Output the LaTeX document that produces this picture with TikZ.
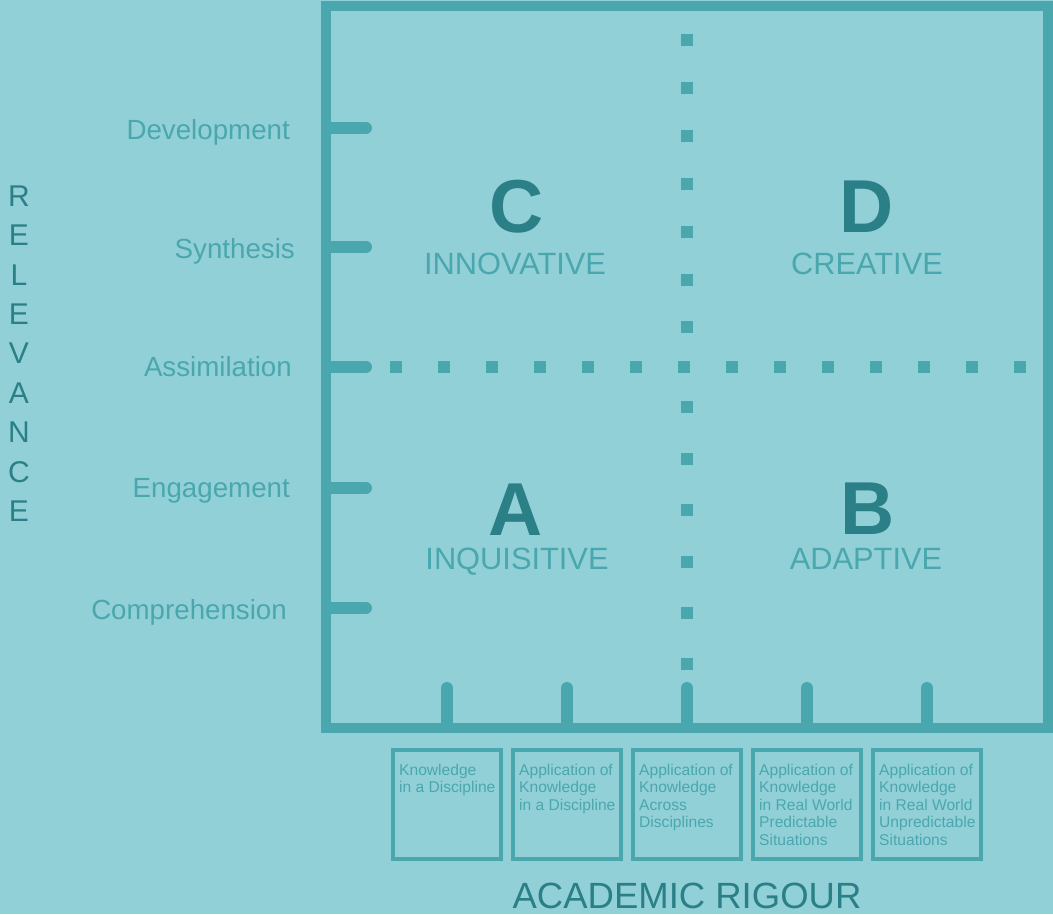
\documentclass[tikz,border=0pt]{standalone}
\usepackage{fontspec}
\setmainfont{Liberation Sans}
\definecolor{bg}{RGB}{146,208,216}
\definecolor{ln}{RGB}{74,167,174}
\definecolor{dk}{RGB}{43,127,135}
\begin{document}
\begin{tikzpicture}[x=1pt,y=-1pt,
  frame/.style={draw=ln, line width=10pt},
  tick/.style={draw=ln, line width=12pt, line cap=round},
  dot/.style={fill=ln},
  lbl/.style={text=ln, inner sep=0pt, font=\fontsize{27.7}{32}\selectfont},
  big/.style={text=dk, inner sep=0pt, font=\fontsize{75}{80}\selectfont\bfseries},
  sub/.style={text=ln, inner sep=0pt, font=\fontsize{30.8}{34}\selectfont},
  axis/.style={text=dk, inner sep=0pt},
  boxnode/.style={draw=ln, line width=4pt, minimum width=108pt, minimum height=109pt, inner sep=0pt},
  boxtext/.style={text=ln, inner sep=0pt, align=left, font=\fontsize{15.6}{17.5}\selectfont}
]
\fill[bg] (0,0) rectangle (1053,914);
\useasboundingbox (0,0) rectangle (1053,914);

% frame
\draw[frame] (326,6) rectangle (1048,728);

% dotted dividers
\foreach \y in {40,88,136,184,232,280,327,407,459,510,562,613,664}
  \fill[dot] (687,\y) +(-6.3,-6.3) rectangle +(6.3,6.3);
\foreach \x in {396,444,...,1020}
  \fill[dot] (\x,367) +(-6.3,-6.3) rectangle +(6.3,6.3);

% left ticks and labels
\foreach \y in {128,247,367,488,608}
  \draw[tick] (328,\y) -- (366,\y);
\node[lbl, anchor=base east] (dev) at (290,139) {Development};
\node[lbl, anchor=base east] (syn) at (295,258) {Synthesis};
\node[lbl, anchor=base east] (ass) at (292,376) {Assimilation};
\node[lbl, anchor=base east] (eng) at (290,497) {Engagement};
\node[lbl, anchor=base east] (com) at (287,619) {Comprehension};

% bottom ticks
\foreach \x in {447,567,687,807,927}
  \draw[tick] (\x,726) -- (\x,688);

% quadrant letters
\node[big, anchor=base] (C) at (516.5,232) {C};
\node[big, anchor=base] (D) at (867,232) {D};
\node[big, anchor=base] (A) at (516,535) {A};
\node[big, anchor=base] (B) at (868,534) {B};
\node[sub, anchor=base] (innov) at (515,274) {INNOVATIVE};
\node[sub, anchor=base] (creat) at (867,274) {CREATIVE};
\node[sub, anchor=base] (inqu) at (517,569) {INQUISITIVE};
\node[sub, anchor=base] (adapt) at (866,569) {ADAPTIVE};

% axis titles
\node[axis, align=center, font=\fontsize{30}{39.4}\selectfont] (rel) at (19,353.5)
  {R\\E\\L\\E\\V\\A\\N\\C\\E};
\node[axis, anchor=base, font=\fontsize{36.5}{40}\selectfont] (ar) at (687,908) {ACADEMIC RIGOUR};

% boxes
\node[boxnode] (b1) at (447,804.5) {};
\node[boxnode] (b2) at (567,804.5) {};
\node[boxnode] (b3) at (687,804.5) {};
\node[boxnode] (b4) at (807,804.5) {};
\node[boxnode] (b5) at (927,804.5) {};
\node[boxtext, anchor=north west] (t1) at (399,763.5) {Knowledge\\in a Discipline};
\node[boxtext, anchor=north west] (t2) at (519,763.5) {Application of\\Knowledge\\in a Discipline};
\node[boxtext, anchor=north west] (t3) at (639,763.5) {Application of\\Knowledge\\Across\\Disciplines};
\node[boxtext, anchor=north west] (t4) at (759,763.5) {Application of\\Knowledge\\in Real World\\Predictable\\Situations};
\node[boxtext, anchor=north west] (t5) at (879,763.5) {Application of\\Knowledge\\in Real World\\Unpredictable\\Situations};
\end{tikzpicture}
\end{document}
